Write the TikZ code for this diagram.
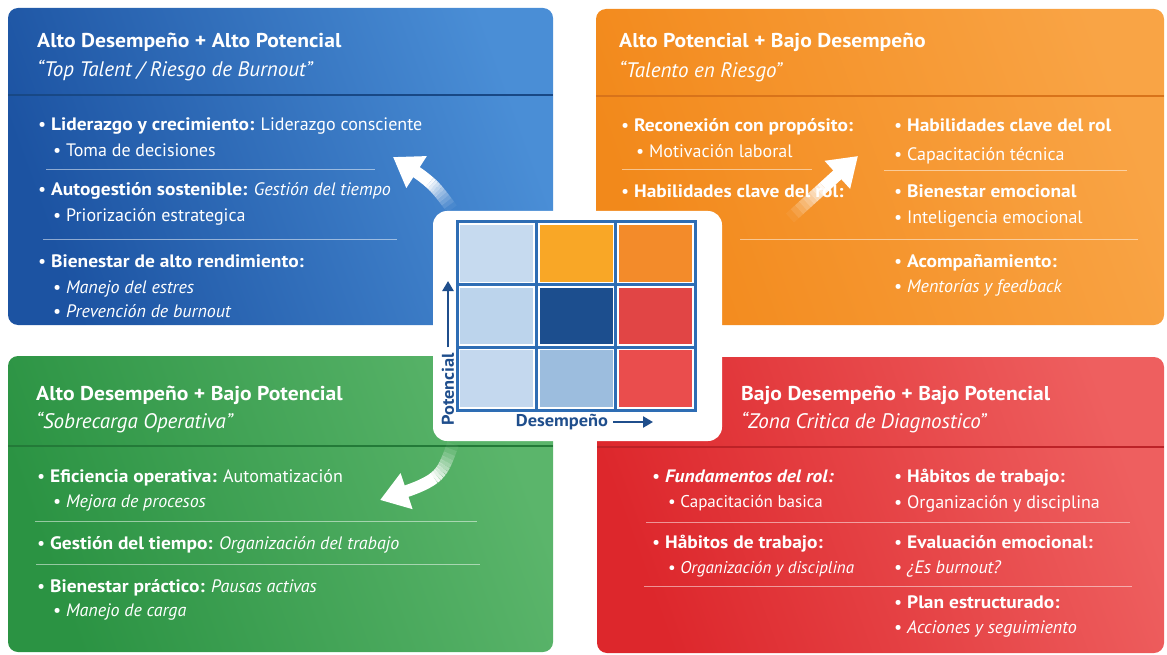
\documentclass[tikz,border=0pt]{standalone}
\usepackage{fontspec}
\setmainfont{PT Sans}[BoldFeatures={FakeStretch=1.08},BoldItalicFeatures={FakeStretch=1.08}]
\usetikzlibrary{arrows.meta,calc}

\definecolor{blueA}{HTML}{1C53A2}
\definecolor{blueB}{HTML}{4A8ED6}
\definecolor{blueLine}{HTML}{184885}
\definecolor{orangeA}{HTML}{F2891B}
\definecolor{orangeB}{HTML}{F9A445}
\definecolor{orangeLine}{HTML}{D8731A}
\definecolor{greenA}{HTML}{2B9343}
\definecolor{greenB}{HTML}{5BB56B}
\definecolor{greenLine}{HTML}{237A38}
\definecolor{redA}{HTML}{DD272C}
\definecolor{redB}{HTML}{EE5F5F}
\definecolor{redLine}{HTML}{BD2227}
\definecolor{axisblue}{HTML}{1F4E8C}
\definecolor{gridblue}{HTML}{2E6DB4}
\definecolor{c11}{HTML}{C6DAEF}
\definecolor{c12}{HTML}{F9A726}
\definecolor{c13}{HTML}{F38B2A}
\definecolor{c21}{HTML}{BCD4EC}
\definecolor{c22}{HTML}{1C4E8E}
\definecolor{c23}{HTML}{E14545}
\definecolor{c31}{HTML}{C4D8EE}
\definecolor{c32}{HTML}{9CBDDE}
\definecolor{c33}{HTML}{EA4D4D}

\begin{document}
\begin{tikzpicture}[x=1pt,y=-1pt,
  panel/.style={rounded corners=10pt,left color=#1A,right color=#1B,shading angle=110},
  hdrline/.style={draw=#1,line width=2pt},
  ttl/.style={anchor=base west,inner sep=0pt,text=white,font=\bfseries\fontsize{20}{24}\selectfont},
  sub/.style={anchor=base west,inner sep=0pt,text=white,font=\itshape\fontsize{21}{24}\selectfont},
  itm/.style={anchor=base west,inner sep=0pt,text=white,font=\fontsize{18}{21}\selectfont},
  itmS/.style={itm,font=\fontsize{17}{20}\selectfont},
  sepline/.style={draw=white,opacity=.5,line width=.8pt},
  shaft/.style={draw=white,line width=12pt},
  bigarrow/.style={shaft,-{Triangle[length=28pt,width=36pt]}},
  cell/.style={draw=white,line width=3pt,minimum width=76pt,minimum height=59.5pt,inner sep=0pt},
  gridline/.style={draw=gridblue,line width=3pt},
  axislbl/.style={inner sep=5pt,text=axisblue,font=\bfseries\fontsize{17}{20}\selectfont},
  axisarrow/.style={draw=axisblue,line width=2.5pt,-{Triangle[length=10pt,width=11pt]}}
]
\useasboundingbox (0,0) rectangle (1167,655);

\shade[panel=blue] (8,8) rectangle (553,325);
\shade[panel=orange] (596,9) rectangle (1164,325);
\shade[panel=green] (8,356) rectangle (553,652);
\shade[panel=red] (597,357) rectangle (1164,653);

% top left
\node[ttl] (t1) at (37,48) {Alto Desempeño + Alto Potencial};
\node[sub] (s1) at (37,77) {“Top Talent / Riesgo de Burnout”};
\draw[hdrline=blueLine] (8,95) -- (553,95);
\node[itm] (b1) at (38,131) {• \textbf{Liderazgo y crecimiento:} Liderazgo consciente};
\node[itm] (b2) at (53,157) {• Toma de decisiones};
\draw[sepline] (46,169) -- (375,169);
\node[itm] (b3) at (38,196) {• \textbf{Autogestión sostenible:} \textit{Gestión del tiempo}};
\node[itm] (b4) at (53,222) {• Priorización estrategica};
\draw[sepline] (43,239) -- (397,239);
\node[itm] (b5) at (38,267) {• \textbf{Bienestar de alto rendimiento:}};
\node[itm] (b6) at (53,293) {• \textit{Manejo del estres}};
\node[itm] (b7) at (53,317) {• \textit{Prevención de burnout}};

% top right
\node[ttl] (t2) at (619,48) {Alto Potencial + Bajo Desempeño};
\node[sub] (s2) at (619,78) {“Talento en Riesgo”};
\draw[hdrline=orangeLine] (596,96) -- (1164,96);
\node[itm] (o1) at (621,132) {• \textbf{Reconexión con propósito:}};
\node[itm] (o2) at (636,158) {• Motivación laboral};
\draw[sepline] (622,169) -- (812,169);
\node[itm] (o3) at (621,197) {• \textbf{Habilidades clave del rol:}};
\node[itm] (o4) at (894,132) {• \textbf{Habilidades clave del rol}};
\node[itm] (o5) at (894,161) {• Capacitación técnica};
\draw[sepline] (884,170) -- (1127,170);
\node[itm] (o6) at (894,197) {• \textbf{Bienestar emocional}};
\node[itm] (o7) at (894,223) {• Inteligencia emocional};
\draw[sepline] (740,239) -- (1138,239);
\node[itm] (o8) at (894,267) {• \textbf{Acompañamiento:}};
\node[itm] (o9) at (894,292) {• \textit{Mentorías y feedback}};

% bottom left
\node[ttl] (t3) at (36,400) {Alto Desempeño + Bajo Potencial};
\node[sub] (s3) at (36,428) {“Sobrecarga Operativa”};
\draw[hdrline=greenLine] (8,446) -- (553,446);
\node[itm] (g1) at (37,482) {• \textbf{Eficiencia operativa:} Automatización};
\node[itm] (g2) at (53,507) {• \textit{Mejora de procesos}};
\draw[sepline] (35,521) -- (477,521);
\node[itm] (g3) at (37,549) {• \textbf{Gestión del tiempo:} \textit{Organización del trabajo}};
\draw[sepline] (36,564) -- (480,564);
\node[itm] (g4) at (37,592) {• \textbf{Bienestar práctico:} \textit{Pausas activas}};
\node[itm] (g5) at (53,616) {• \textit{Manejo de carga}};

% bottom right
\node[ttl] (t4) at (741,400) {Bajo Desempeño + Bajo Potencial};
\node[sub] (s4) at (741,428) {“Zona Critica de Diagnostico”};
\draw[hdrline=redLine] (597,447) -- (1164,447);
\node[itm] (r1) at (652,482) {• \textbf{\textit{Fundamentos del rol:}}};
\node[itmS] (r2) at (668,507) {• Capacitación basica};
\draw[sepline] (646,522) -- (1130,522);
\node[itm] (r3) at (652,548) {• \textbf{Håbitos de trabajo:}};
\node[itmS] (r4) at (668,573) {• \textit{Organización y disciplina}};
\draw[sepline] (644,586) -- (1132,586);
\node[itm] (r5) at (894,482) {• \textbf{Håbitos de trabajo:}};
\node[itm] (r6) at (894,508) {• Organización y disciplina};
\node[itm] (r7) at (894,548) {• \textbf{Evaluación emocional:}};
\node[itm] (r8) at (894,573) {• \textit{¿Es burnout?}};
\node[itm] (r9) at (894,608) {• \textbf{Plan estructurado:}};
\node[itm] (r10) at (894,633) {• \textit{Acciones y seguimiento}};

% arrows out of the matrix, tail half fading in
\coordinate (a1-tail) at (452,209);
\coordinate (a1-head) at (393,157);
\coordinate (a1-ctrl) at (432,182);
\coordinate (a2-tail) at (790,218);
\coordinate (a2-head) at (858,156);
\coordinate (a2-ctrl) at (824,187);
\coordinate (a3-tail) at (453,444);
\coordinate (a3-head) at (380,500);
\coordinate (a3-ctrl) at (440,480);
\foreach \n in {a1,a2,a3} {
  \path (\n-tail) .. controls (\n-ctrl) .. (\n-head)
    coordinate[pos=0] (\n-p0) coordinate[pos=.05] (\n-p1) coordinate[pos=.1] (\n-p2)
    coordinate[pos=.15] (\n-p3) coordinate[pos=.2] (\n-p4) coordinate[pos=.25] (\n-p5)
    coordinate[pos=.3] (\n-p6) coordinate[pos=.35] (\n-p7) coordinate[pos=.4] (\n-p8)
    coordinate[pos=.45] (\n-p9) coordinate[pos=.5] (\n-p10);
  \foreach \i [evaluate=\i as \j using int(\i+1), evaluate=\i as \o using (\i+.5)/10] in {0,...,9}
    \draw[shaft,opacity=\o] (\n-p\i) -- (\n-p\j);
  \draw[bigarrow] (\n-p10) .. controls ($(\n-ctrl)!.25!(\n-head)$) and ($(\n-ctrl)!.5!(\n-head)$) .. (\n-head);
}

% matrix card
\fill[white,rounded corners=14pt] (433,211) rectangle (722,441);
\foreach \r/\c in {1/1,1/2,1/3,2/1,2/2,2/3,3/1,3/2,3/3}
  \node[cell,fill=c\r\c] (cell\r\c) at ({457+79.33*(\c-.5)},{222+62.67*(\r-.5)}) {};
\draw[gridline] (457,222) rectangle (695,410);
\foreach \gx in {536.3,615.7} \draw[gridline] (\gx,222) -- (\gx,410);
\foreach \gy in {284.7,347.3} \draw[gridline] (457,\gy) -- (695,\gy);

\node[axislbl,rotate=90] (pot) at (448,389) {Potencial};
\node[axislbl] (des) at (562,422) {Desempeño};
\coordinate (pot-tip) at (448,281);
\coordinate (des-tip) at (653,422);
\draw[axisarrow] (pot.east) -- (pot-tip);
\draw[axisarrow] (des.east) -- (des-tip);
\end{tikzpicture}
\end{document}
